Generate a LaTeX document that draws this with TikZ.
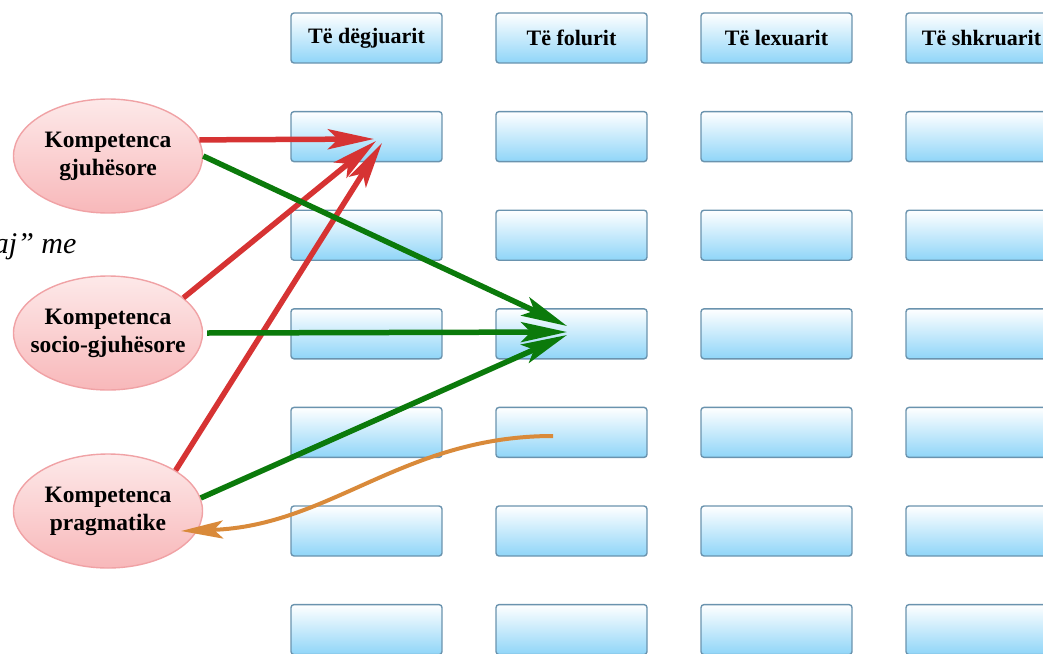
\documentclass[tikz,border=0pt]{standalone}
\usepackage{fontspec}
\setmainfont{Liberation Serif}
\usepackage{tikz}
\usetikzlibrary{positioning,shapes.geometric,arrows.meta}

\definecolor{boxline}{HTML}{6A93AE}
\definecolor{boxblue}{HTML}{8FD5F8}
\definecolor{komline}{HTML}{F0A2A5}
\definecolor{komtop}{HTML}{FDE9E9}
\definecolor{kombot}{HTML}{F8B8BA}
\definecolor{arred}{HTML}{D63333}
\definecolor{argreen}{HTML}{0B7A0B}
\definecolor{arorange}{HTML}{D98A3A}

\tikzset{
  cell/.style={rectangle, rounded corners=3pt, draw=boxline, line width=1.4pt,
    top color=white, bottom color=boxblue, minimum width=151pt,
    minimum height=50pt, inner sep=0pt, font=\bfseries\fontsize{22}{26}\selectfont},
  komp/.style={ellipse, draw=komline, line width=1.4pt, top color=komtop,
    bottom color=kombot, minimum width=189pt, minimum height=114pt,
    inner sep=0pt, inner xsep=-22pt, align=center,
    font=\bfseries\fontsize{23.5}{28}\selectfont},
  redarrow/.style={draw=arred, line width=5.5pt},
  greenarrow/.style={draw=argreen, line width=5.5pt},
  orangearrow/.style={draw=arorange, line width=4pt,
    -{Stealth[length=42pt,width=18pt,inset=9pt]}}
}

\begin{document}
\begin{tikzpicture}[x=1pt,y=-1pt,node distance=98.6pt and 205pt,on grid,
    >={Stealth[length=46pt,width=20pt,inset=10pt]}]
  \useasboundingbox (0,0) rectangle (1043,653);
  \clip (0,0) rectangle (1043,653);

  \node[cell] (deg) at (366.5,38) {Të dëgjuarit};
  \node[cell] (fol) [right = of deg] {Të folurit};
  \node[cell] (lex) [right = of fol] {Të lexuarit};
  \node[cell] (shk) [right = of lex] {Të shkruarit};

  \node[cell] (deg1) [below = of deg] {};
  \node[cell] (deg2) [below = of deg1] {};
  \node[cell] (deg3) [below = of deg2] {};
  \node[cell] (deg4) [below = of deg3] {};
  \node[cell] (deg5) [below = of deg4] {};
  \node[cell] (deg6) [below = of deg5] {};

  \node[cell] (fol1) [below = of fol] {};
  \node[cell] (fol2) [below = of fol1] {};
  \node[cell] (fol3) [below = of fol2] {};
  \node[cell] (fol4) [below = of fol3] {};
  \node[cell] (fol5) [below = of fol4] {};
  \node[cell] (fol6) [below = of fol5] {};

  \node[cell] (lex1) [below = of lex] {};
  \node[cell] (lex2) [below = of lex1] {};
  \node[cell] (lex3) [below = of lex2] {};
  \node[cell] (lex4) [below = of lex3] {};
  \node[cell] (lex5) [below = of lex4] {};
  \node[cell] (lex6) [below = of lex5] {};

  \node[cell] (shk1) [below = of shk] {};
  \node[cell] (shk2) [below = of shk1] {};
  \node[cell] (shk3) [below = of shk2] {};
  \node[cell] (shk4) [below = of shk3] {};
  \node[cell] (shk5) [below = of shk4] {};
  \node[cell] (shk6) [below = of shk5] {};

  \node[komp] (kg) at (108,156) {Kompetenca\\gjuhësore};
  \node[komp] (ks) at (108,333) {Kompetenca\\socio-gjuhësore};
  \node[komp] (kp) at (108,511) {Kompetenca\\pragmatike};

  \node[anchor=base east,font=\itshape\fontsize{30}{34}\selectfont] (txt) at (80,253) {aj” me};

  \coordinate (rt1) at (374,139);
  \coordinate (rt2) at (376,141);
  \coordinate (rt3) at (382,143);
  \coordinate (gt1) at (567,326);
  \coordinate (gt2) at (567,332);
  \coordinate (gt3) at (567,335);
  \coordinate (os) at (553,436);
  \coordinate (ot) at (181,531);

  \path[->]
  (kg.10)
  edge [redarrow] (rt1)
  (ks.25)
  edge [redarrow] (rt2)
  (kp.31)
  edge [redarrow] (rt3)
  (kg.east)
  edge [greenarrow] (gt1)
  ([xshift=4pt]ks.east)
  edge [greenarrow] (gt2)
  (kp.8)
  edge [greenarrow] (gt3)
  (os)
  edge [orangearrow, out=180, in=2] (ot)
  ;
\end{tikzpicture}
\end{document}
